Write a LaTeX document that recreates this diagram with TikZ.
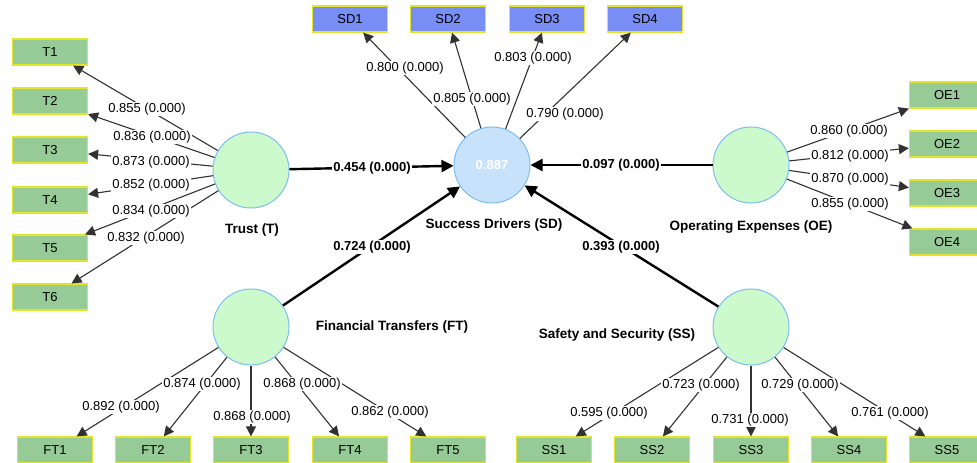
\documentclass[tikz,border=0pt]{standalone}
\usepackage{fontspec}
\setmainfont{Liberation Sans}
\usetikzlibrary{arrows.meta}

\definecolor{indfill}{RGB}{150,202,150}
\definecolor{indedge}{RGB}{228,228,40}
\definecolor{sdfill}{RGB}{120,142,245}
\definecolor{lvfill}{RGB}{204,250,204}
\definecolor{lvedge}{RGB}{125,190,240}
\definecolor{sdcirc}{RGB}{200,226,252}
\definecolor{loadline}{RGB}{50,50,50}

\tikzset{
  indicator/.style={draw=indedge, fill=indfill, line width=1.2pt,
    minimum width=75pt, minimum height=26pt, inner sep=0pt,
    font=\fontsize{13}{15}\selectfont},
  sdind/.style={indicator, fill=sdfill},
  latent/.style={circle, draw=lvedge, fill=lvfill, line width=1pt,
    minimum size=76pt, inner sep=0pt},
  endo/.style={latent, fill=sdcirc, text=white,
    font=\bfseries\fontsize{13}{15}\selectfont},
  lvname/.style={font=\bfseries\fontsize{13.5}{16}\selectfont},
  loading/.style={draw=loadline, line width=1.1pt,
    -{Triangle[length=10pt,width=10pt]}},
  pathcoef/.style={draw=black, line width=2.4pt,
    -{Triangle[length=12pt,width=12pt]}},
  lbl/.style={fill=white, inner sep=1pt, font=\fontsize{13}{15}\selectfont},
  blbl/.style={lbl, font=\bfseries\fontsize{13}{15}\selectfont},
}

\begin{document}
\begin{tikzpicture}[x=1pt,y=-1pt]
\useasboundingbox (0,0) rectangle (977,463);
\clip (0,0) rectangle (977,463);
\fill[white] (0,0) rectangle (977,463);

% constructs
\node[latent] (T)  at (251,170) {};
\node[endo]   (SD) at (492,165) {0.887};
\node[latent] (OE) at (751,165) {};
\node[latent] (FT) at (251,327) {};
\node[latent] (SS) at (751,327) {};

% construct names
\node[lvname] (nT)  at (252,230) {Trust (T)};
\node[lvname] (nSD) at (494,225) {Success Drivers (SD)};
\node[lvname] (nOE) at (751,227) {Operating Expenses (OE)};
\node[lvname] (nFT) at (392,327) {Financial Transfers (FT)};
\node[lvname] (nSS) at (617,335) {Safety and Security (SS)};

% indicators
\foreach \i/\y in {1/52,2/101,3/150,4/200,5/248,6/297}
  \node[indicator] (T\i) at (50,\y) {T\i};
\foreach \i/\x in {1/350,2/448,3/547,4/645}
  \node[sdind] (SD\i) at (\x,19) {SD\i};
\foreach \i/\y in {1/95,2/144,3/193,4/242}
  \node[indicator] (OE\i) at (947,\y) {OE\i};
\foreach \i/\x in {1/55,2/153,3/251,4/350,5/448}
  \node[indicator] (FT\i) at (\x,450) {FT\i};
\foreach \i/\x in {1/554,2/652,3/751,4/849,5/947}
  \node[indicator] (SS\i) at (\x,450) {SS\i};

% outer loadings
\foreach \i in {1,...,6} \draw[loading] (T) -- (T\i);
\foreach \i in {1,...,4} \draw[loading] (SD) -- (SD\i);
\foreach \i in {1,...,4} \draw[loading] (OE) -- (OE\i);
\foreach \i in {1,...,5} \draw[loading] (FT) -- (FT\i);
\foreach \i in {1,...,5} \draw[loading] (SS) -- (SS\i);

% structural paths
\draw[pathcoef] (T)  -- (SD);
\draw[pathcoef] (OE) -- (SD);
\draw[pathcoef] (FT) -- (SD);
\draw[pathcoef] (SS) -- (SD);

% loading values
\foreach \n/\v/\x/\y in {1/0.855/147/109, 2/0.836/152/137, 3/0.873/151/162,
                         4/0.852/151/185, 5/0.834/151/211, 6/0.832/146/238}
  \node[lbl] (lT\n) at (\x,\y) {\v{} (0.000)};
\foreach \n/\v/\x/\y in {1/0.800/405/68, 2/0.805/472/99, 3/0.803/533/58, 4/0.790/565/114}
  \node[lbl] (lSD\n) at (\x,\y) {\v{} (0.000)};
\foreach \n/\v/\x/\y in {1/0.860/849/131, 2/0.812/850/156, 3/0.870/850/179, 4/0.855/850/204}
  \node[lbl] (lOE\n) at (\x,\y) {\v{} (0.000)};
\foreach \n/\v/\x/\y in {1/0.892/121/407, 2/0.874/202/384, 3/0.868/252/417,
                         4/0.868/302/384, 5/0.862/390/412}
  \node[lbl] (lFT\n) at (\x,\y) {\v{} (0.000)};
\foreach \n/\v/\x/\y in {1/0.595/609/413, 2/0.723/701/385, 3/0.731/750/420,
                         4/0.729/800/385, 5/0.761/890/413}
  \node[lbl] (lSS\n) at (\x,\y) {\v{} (0.000)};

% path coefficients
\node[blbl] (pT)  at (372,168) {0.454 (0.000)};
\node[blbl] (pOE) at (621,165) {0.097 (0.000)};
\node[blbl] (pFT) at (372,247) {0.724 (0.000)};
\node[blbl] (pSS) at (621,247) {0.393 (0.000)};
\end{tikzpicture}
\end{document}
